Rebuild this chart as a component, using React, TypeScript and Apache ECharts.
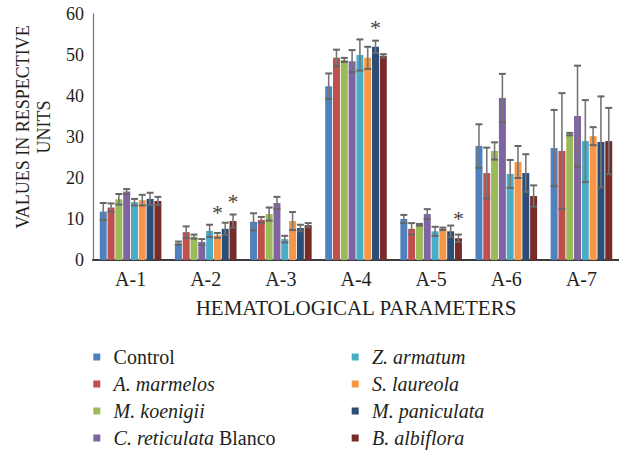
import React, { useEffect, useRef } from "react";
import * as echarts from "echarts";

const categories = ["A-1", "A-2", "A-3", "A-4", "A-5", "A-6", "A-7"];
const seriesNames = [
  "Control",
  "A. marmelos",
  "M. koenigii",
  "C. reticulata Blanco",
  "Z. armatum",
  "S. laureola",
  "M. paniculata",
  "B. albiflora",
];
const colors = ["#4F81BD", "#C0504D", "#9BBB59", "#8064A2", "#4BACC6", "#F79646", "#2C4D75", "#772C2A"];

const control = [11.8, 4.1, 9.3, 42.4, 10.0, 27.8, 27.3];
const marmelos = [12.8, 6.8, 9.8, 49.3, 7.6, 21.2, 26.6];
const koenigii = [14.8, 5.7, 11.2, 48.8, 8.6, 26.6, 30.7];
const reticulata = [16.7, 4.4, 13.9, 48.5, 11.2, 39.5, 35.1];
const armatum = [14.1, 7.1, 5.1, 50.0, 7.0, 21.0, 29.0];
const laureola = [14.6, 6.0, 9.5, 49.3, 7.6, 23.9, 30.2];
const paniculata = [14.9, 7.6, 7.8, 52.0, 7.0, 21.2, 28.8];
const albiflora = [14.4, 9.5, 8.5, 49.8, 5.3, 15.6, 29.0];

const controlErr = [2.1, 0.4, 2.1, 3.1, 1.0, 5.3, 9.3];
const marmelosErr = [1.0, 1.4, 0.7, 2.0, 1.4, 6.2, 14.1];
const koenigiiErr = [1.3, 0.5, 1.6, 0.5, 0.2, 2.1, 0.3];
const reticulataErr = [0.6, 0.7, 1.5, 2.7, 1.2, 5.9, 12.3];
const armatumErr = [0.8, 1.5, 0.8, 3.8, 1.1, 3.4, 10.0];
const laureolaErr = [1.3, 0.6, 2.2, 2.7, 0.3, 3.9, 2.2];
const paniculataErr = [1.5, 1.5, 0.8, 1.5, 1.4, 4.6, 11.1];
const albifloraErr = [1.0, 1.6, 0.5, 0.4, 0.9, 2.6, 8.1];

const values = [control, marmelos, koenigii, reticulata, armatum, laureola, paniculata, albiflora];
const errors = [controlErr, marmelosErr, koenigiiErr, reticulataErr, armatumErr, laureolaErr, paniculataErr, albifloraErr];

// asterisks: [category index, series index, vertical position value]
const asterisks = [
  [1, 5, 11.5],
  [1, 7, 14.2],
  [3, 6, 56.7],
  [4, 7, 10.2],
];

const yTicks = { min: 0, max: 60, interval: 10 };

const FONT = "Liberation Serif";
const TEXT = "#231F20";
const CAT_GAP = 0.18;
const BAR_GAP = 0.12;

function barOffset(api: any, si: number) {
  const band = api.size([1, 0])[0];
  const usable = band * (1 - CAT_GAP);
  const n = seriesNames.length;
  const bw = usable / (n + (n - 1) * BAR_GAP);
  return { off: -usable / 2 + si * bw * (1 + BAR_GAP) + bw / 2, bw };
}

// legend label markup: italic species names, roman "Control" / "Blanco"
const legendLabel = (name: string) => {
  if (name === "Control") return "{n|Control}";
  if (name === "C. reticulata Blanco") return "{i|C. reticulata}{n| Blanco}";
  return "{i|" + name + "}";
};

const LEGEND = { colX: [93.3, 351.7], rowY0: 357, rowStep: 27, icon: 7, textGap: 13.3, perCol: 4 };

function buildLegend() {
  const els: any[] = [];
  seriesNames.forEach((name, k) => {
    const col = Math.floor(k / LEGEND.perCol);
    const row = k % LEGEND.perCol;
    const x = LEGEND.colX[col];
    const y = LEGEND.rowY0 + row * LEGEND.rowStep;
    els.push({
      type: "rect",
      shape: { x, y: y - LEGEND.icon / 2, width: LEGEND.icon, height: LEGEND.icon },
      style: { fill: colors[k] },
      silent: true,
    });
    els.push({
      type: "text",
      x: x + LEGEND.icon + LEGEND.textGap,
      y,
      silent: true,
      style: {
        text: legendLabel(name),
        fill: TEXT,
        fontFamily: FONT,
        fontSize: 20,
        verticalAlign: "middle",
        align: "left",
        rich: {
          n: { fontFamily: FONT, fontSize: 20, fill: TEXT, fontStyle: "normal" },
          i: { fontFamily: FONT, fontSize: 20, fill: TEXT, fontStyle: "italic" },
        },
      },
    });
  });
  return els;
}

export default function App() {
  const ref = useRef<HTMLDivElement>(null);
  useEffect(() => {
    document.body.style.margin = "0";
    if (!ref.current) return;
    const chart = echarts.init(ref.current, null, { renderer: "svg" });

    const errData: any[] = [];
    values.forEach((arr, si) =>
      arr.forEach((v, ci) => errData.push([ci, si, v, errors[si][ci]]))
    );

    const barSeries = seriesNames.map((name, si) => ({
      name,
      type: "bar",
      data: values[si],
      itemStyle: { color: colors[si] },
      barCategoryGap: (CAT_GAP * 100) + "%",
      barGap: (BAR_GAP * 100) + "%",
      emphasis: { disabled: true },
    }));

    const option: any = {
      animation: false,
      textStyle: { fontFamily: FONT },
      grid: { left: 93, right: -3, top: 14, bottom: 191, containLabel: false },
      xAxis: {
        type: "category",
        data: categories,
        axisLine: { lineStyle: { color: "#3a3a3a", width: 2 } },
        axisTick: { show: false },
        axisLabel: { fontFamily: FONT, fontSize: 20, color: TEXT, margin: 9 },
        name: "HEMATOLOGICAL PARAMETERS",
        nameLocation: "middle",
        nameGap: 37,
        nameTextStyle: { fontFamily: FONT, fontSize: 21, color: TEXT },
      },
      yAxis: {
        type: "value",
        min: yTicks.min,
        max: yTicks.max,
        interval: yTicks.interval,
        splitLine: { show: false },
        axisLine: { show: true, lineStyle: { color: "#7a7a7a", width: 1.3 } },
        axisTick: { show: false },
        axisLabel: { fontFamily: FONT, fontSize: 18, color: TEXT, margin: 9 },
      },
      graphic: [
        {
          type: "text",
          x: 33,
          y: 127,
          rotation: Math.PI / 2,
          style: {
            text: "VALUES IN RESPECTIVE\nUNITS",
            fontFamily: FONT,
            fontSize: 18,
            fill: TEXT,
            align: "center",
            verticalAlign: "middle",
            lineHeight: 21,
          },
        },
        ...buildLegend(),
      ],
      series: [
        ...barSeries,
        {
          type: "custom",
          name: "errors",
          data: errData,
          encode: { x: 0, y: 2 },
          z: 5,
          silent: true,
          renderItem: (params: any, api: any) => {
            const ci = api.value(0);
            const si = api.value(1);
            const v = api.value(2);
            const e = api.value(3);
            const { off, bw } = barOffset(api, si);
            const top = api.coord([ci, v + e]);
            const bot = api.coord([ci, v - e]);
            const x = top[0] + off;
            const hw = bw / 2;
            const capStyle = { stroke: "#666666", lineWidth: 2 };
            return {
              type: "group",
              children: [
                { type: "line", shape: { x1: x, y1: top[1], x2: x, y2: bot[1] }, style: { stroke: "#777777", lineWidth: 1.6 } },
                { type: "line", shape: { x1: x - hw, y1: top[1], x2: x + hw, y2: top[1] }, style: capStyle },
                { type: "line", shape: { x1: x - hw, y1: bot[1], x2: x + hw, y2: bot[1] }, style: capStyle },
              ],
            };
          },
        },
        {
          type: "custom",
          name: "stars",
          data: asterisks,
          encode: { x: 0, y: 2 },
          z: 6,
          silent: true,
          renderItem: (params: any, api: any) => {
            const ci = api.value(0);
            const si = api.value(1);
            const p = api.value(2);
            const { off } = barOffset(api, si);
            const pt = api.coord([ci, p]);
            return {
              type: "text",
              x: pt[0] + off,
              y: pt[1],
              style: {
                text: "*",
                fontFamily: FONT,
                fontSize: 22,
                fill: "#444444",
                align: "center",
                verticalAlign: "middle",
              },
            };
          },
        },
      ],
    };
    chart.setOption(option);
    return () => chart.dispose();
  }, []);
  return <div ref={ref} style={{ width: 619, height: 451 }} />;
}
